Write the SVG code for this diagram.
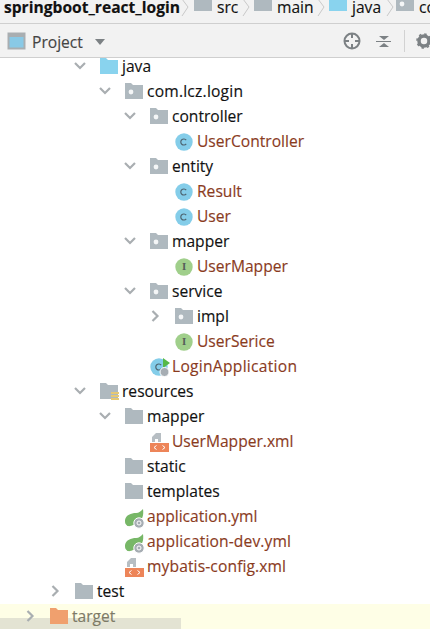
<svg xmlns="http://www.w3.org/2000/svg" width="430" height="629" viewBox="0 0 430 629">
<style>
text{font-family:"Open Sans","Noto Sans","Liberation Sans",sans-serif;font-size:15.6px;fill:#111;stroke:#111;stroke-width:.15px}
.b{font-weight:700;font-size:15.6px;fill:#111}
.r{fill:#8a3b1e;stroke:#8a3b1e}
.g{fill:#444;stroke:#444}
.t{fill:#7d7a66;stroke:#7d7a66}
.c{fill:none;stroke:#a9aeb1;stroke-width:2.200}
.bc{fill:none;stroke:#c9c9c9;stroke-width:1}
.f{fill:#afb9bf}
.l{fill:#89d3ee}
.w{fill:#f4f6f7}
.m{font-family:"DejaVu Serif","Liberation Serif",serif;font-size:9px;font-weight:700;fill:#55605a;stroke:none;text-anchor:middle}
</style>
<defs>
<path id="fold" d="M0 -8H6L8 -6H18V8H0Z"/>
<g id="pkg"><use href="#fold" class="f"/><circle cx="6" cy="1" r="2.400" class="w"/></g>
<path id="dn" class="c" d="M-5 -3L0 2L5 -3"/>
<path id="rt" class="c" d="M-2.500 -5L2.500 0L-2.500 5"/>
<g id="cls"><circle r="8.700" fill="#84cde9"/><path d="M2.200 -1.800A3 3 0 1 0 2.200 1.800" fill="none" stroke="#4d6470" stroke-width="1.200"/></g>
<g id="ifc"><circle r="8.700" fill="#a0cf8b"/><text class="m" y="3.200">I</text></g>
<g id="xml"><path d="M2 -1V-6L6 -10H11V-1Z" fill="#b7bec3"/><path d="M5 -1V-4H8V-1Z" fill="#fff"/><rect x="0" y="0" width="19" height="9" fill="#ed8559"/><path d="M6.500 2.500L4 4.500L6.500 6.500M12.500 2.500L15 4.500L12.500 6.500" fill="none" stroke="#fff" stroke-width="1"/></g>
<g id="yml"><path d="M0 2C1 -3 6 -5 11 -5C14 -5 16 -7 18 -9C19 -2 17 2 13 5L8 7C6 8 3 9 1.500 7C0 6 0 4 0 2Z" fill="#77b767"/><circle cx="14" cy="5" r="5.200" fill="#a6adb3" stroke="#fff"/><circle cx="14" cy="5" r="2" fill="none" stroke="#fff"/></g>
</defs>
<rect width="430" height="629" fill="#fff"/>
<g id="breadcrumb">
<rect width="430" height="23" fill="#f2f2f2"/>
<path d="M0 23.500H430" stroke="#cfcfcf"/>
<text class="b" x="4" y="13">springboot_react_login</text>
<path class="bc" d="M182 -1L188 7L182 16M243 -1L249 7L243 16M318 -1L324 7L318 16M387 -1L393 7L387 16"/>
<rect x="194" y="-2" width="18" height="13" class="f"/><text x="217" y="13">src</text>
<rect x="254" y="-2" width="18" height="13" class="f"/><text x="277" y="13">main</text>
<rect x="329" y="-2" width="18" height="13" class="l"/><text x="352" y="13">java</text>
<rect x="396" y="-2" width="18" height="13" class="f"/><circle cx="402" cy="4" r="2.400" class="w"/><text x="419" y="13">co</text>
</g>
<g id="toolbar">
<rect y="24" width="430" height="33" fill="#f2f2f2"/>
<path d="M0 57.500H430" stroke="#cfcfcf"/>
<rect x="8.500" y="33.500" width="16" height="15" fill="#89c9e6" stroke="#a9aeb1" stroke-width="2"/>
<rect x="9" y="34" width="15" height="3" fill="#a9aeb1"/>
<text class="g" x="32" y="48">Project</text>
<path d="M95 39H105L100 45Z" fill="#7c8184"/>
<circle cx="352" cy="41" r="7.500" fill="none" stroke="#7c8184" stroke-width="2"/>
<path d="M352 33V38M352 44V49M344 41H349M355 41H360" stroke="#7c8184" stroke-width="2"/>
<path d="M379 36H389L384 40ZM379 47H389L384 43Z M376 41H391V42H376Z" fill="#7c8184"/>
<path d="M404.500 30V52" stroke="#d2d2d2"/>
<circle cx="424" cy="41" r="5" fill="none" stroke="#7c8184" stroke-width="3.500"/>
<circle cx="424" cy="41" r="7" fill="none" stroke="#7c8184" stroke-width="1.600" stroke-dasharray="2.500 3"/>
</g>
<g id="status-strip">
<rect y="604" width="430" height="25" fill="#fefee6"/>
<rect y="618" width="181" height="11" fill="#e3e3d3"/>
</g>
<g id="connectors"/>
<g id="n-java"><use href="#dn" x="80" y="66"/><use href="#fold" class="l" x="100" y="66"/><text x="122" y="72">java</text></g>
<g id="n-com"><use href="#dn" x="105" y="91"/><use href="#pkg" x="125" y="91"/><text x="147" y="97" textLength="96">com.lcz.login</text></g>
<g id="n-controller"><use href="#dn" x="130" y="116"/><use href="#pkg" x="150" y="116"/><text x="172" y="122">controller</text></g>
<g id="n-usercontroller"><use href="#cls" x="184" y="142"/><text class="r" x="197" y="147">UserController</text></g>
<g id="n-entity"><use href="#dn" x="130" y="166"/><use href="#pkg" x="150" y="166"/><text x="172" y="172">entity</text></g>
<g id="n-result"><use href="#cls" x="184" y="192"/><text class="r" x="197" y="197">Result</text></g>
<g id="n-user"><use href="#cls" x="184" y="217"/><text class="r" x="197" y="222">User</text></g>
<g id="n-mapper"><use href="#dn" x="130" y="241"/><use href="#pkg" x="150" y="241"/><text x="172" y="247">mapper</text></g>
<g id="n-usermapper"><use href="#ifc" x="184" y="267"/><text class="r" x="197" y="272">UserMapper</text></g>
<g id="n-service"><use href="#dn" x="130" y="291"/><use href="#pkg" x="150" y="291"/><text x="172" y="297">service</text></g>
<g id="n-impl"><use href="#rt" x="155" y="316"/><use href="#pkg" x="175" y="316"/><text x="197" y="322">impl</text></g>
<g id="n-userserice"><use href="#ifc" x="184" y="342"/><text class="r" x="197" y="347">UserSerice</text></g>
<g id="n-loginapplication"><use href="#cls" x="159" y="367"/><path d="M163 358L170 363L163 368Z" fill="#57b947"/><circle cx="164.500" cy="372" r="4.500" fill="#a6adb3" stroke="#fff"/><text class="r" x="172" y="372" textLength="125">LoginApplication</text></g>
<g id="n-resources"><use href="#dn" x="80" y="391"/><use href="#fold" class="f" x="100" y="391"/><g fill="#e6c873"><rect x="111" y="392" width="8" height="2"/><rect x="111" y="395" width="8" height="2"/><rect x="111" y="398" width="8" height="2"/></g><text x="122" y="397">resources</text></g>
<g id="n-mapper2"><use href="#dn" x="105" y="416"/><use href="#fold" class="f" x="125" y="416"/><text x="147" y="422">mapper</text></g>
<g id="n-usermapperxml"><use href="#xml" x="150" y="443"/><text class="r" x="172" y="447">UserMapper.xml</text></g>
<g id="n-static"><use href="#fold" class="f" x="125" y="466"/><text x="147" y="472">static</text></g>
<g id="n-templates"><use href="#fold" class="f" x="125" y="491"/><text x="147" y="497">templates</text></g>
<g id="n-applicationyml"><use href="#yml" x="125" y="518"/><text class="r" x="147" y="522">application.yml</text></g>
<g id="n-applicationdevyml"><use href="#yml" x="125" y="543"/><text class="r" x="147" y="547" textLength="144">application-dev.yml</text></g>
<g id="n-mybatis"><use href="#xml" x="125" y="568"/><text class="r" x="147" y="572" textLength="139">mybatis-config.xml</text></g>
<g id="n-test"><use href="#rt" x="55" y="591"/><use href="#fold" class="f" x="75" y="591"/><text x="97" y="597">test</text></g>
<g id="n-target"><use href="#rt" x="30" y="616"/><use href="#fold" fill="#f0a06e" x="50" y="616"/><text class="t" x="72" y="622">target</text></g>
</svg>
